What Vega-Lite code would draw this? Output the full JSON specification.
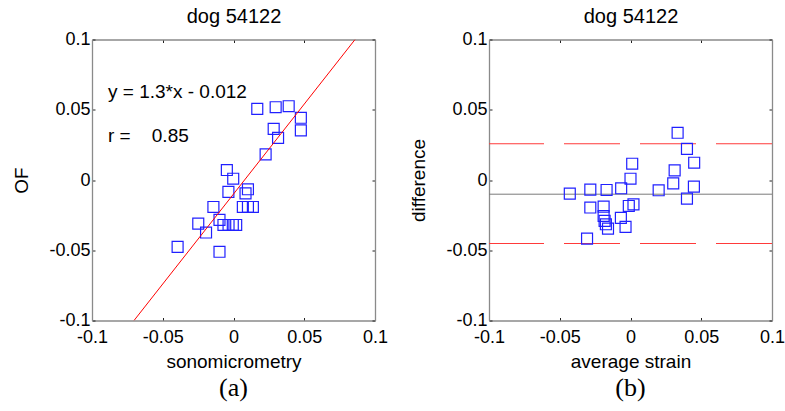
{
  "$schema": "https://vega.github.io/schema/vega-lite/v6.json",
  "padding": {"left": 12, "top": 5.5, "right": 5, "bottom": 5},
  "background": "white",
  "datasets": {
    "ptsA": [
      {"x": 0.0168, "y": 0.0506}, {"x": 0.0298, "y": 0.0518}, {"x": 0.039, "y": 0.0525},
      {"x": 0.0476, "y": 0.0443}, {"x": 0.0476, "y": 0.0353}, {"x": 0.0284, "y": 0.0364},
      {"x": 0.0315, "y": 0.030}, {"x": 0.0227, "y": 0.0182}, {"x": -0.0047, "y": 0.0071},
      {"x": -0.0002, "y": 0.0009}, {"x": -0.0036, "y": -0.0085}, {"x": 0.0102, "y": -0.0066},
      {"x": 0.0085, "y": -0.0095}, {"x": 0.0066, "y": -0.0192}, {"x": 0.0102, "y": -0.0192},
      {"x": 0.0137, "y": -0.0192}, {"x": -0.0142, "y": -0.0192}, {"x": -0.0249, "y": -0.031},
      {"x": -0.0194, "y": -0.0374}, {"x": -0.0099, "y": -0.0284}, {"x": -0.0071, "y": -0.032},
      {"x": -0.0035, "y": -0.032}, {"x": -0.0005, "y": -0.032}, {"x": 0.0019, "y": -0.032},
      {"x": -0.0395, "y": -0.0476}, {"x": -0.0099, "y": -0.0511}
    ],
    "ptsB": [
      {"x": 0.0333, "y": 0.0336}, {"x": 0.0399, "y": 0.0222}, {"x": 0.045, "y": 0.0123},
      {"x": 0.0012, "y": 0.0116}, {"x": 0.0312, "y": 0.0069}, {"x": 0.0, "y": 0.0009},
      {"x": 0.0302, "y": -0.0024}, {"x": 0.0448, "y": -0.0047}, {"x": 0.0199, "y": -0.0073},
      {"x": 0.0399, "y": -0.0133}, {"x": -0.0066, "y": -0.0059}, {"x": -0.0169, "y": -0.0071},
      {"x": -0.0284, "y": -0.0069}, {"x": -0.0429, "y": -0.0097}, {"x": -0.0284, "y": -0.0196},
      {"x": -0.019, "y": -0.0189}, {"x": -0.0012, "y": -0.0185}, {"x": 0.0021, "y": -0.0173},
      {"x": -0.019, "y": -0.0256}, {"x": -0.0068, "y": -0.027}, {"x": -0.0183, "y": -0.0291},
      {"x": -0.0174, "y": -0.0315}, {"x": -0.0159, "y": -0.0346}, {"x": -0.0035, "y": -0.0334},
      {"x": -0.0307, "y": -0.0417}
    ],
    "fitA": [{"x": -0.0703, "y": -0.1}, {"x": 0.0859, "y": 0.1}],
    "textA": [
      {"x": -0.0887, "y": 0.0628, "label": "y = 1.3*x - 0.012"},
      {"x": -0.0887, "y": 0.0313, "label": "r =\u00a0\u00a0\u00a0 0.85"}
    ],
    "meanB": [{"x": -0.1, "y": -0.0101}, {"x": 0.1, "y": -0.0101}],
    "limB": [{"y": 0.0258}, {"y": -0.0452}]
  },
  "hconcat": [
    {
      "width": 283,
      "height": 281,
      "title": {"text": "(a)", "orient": "bottom", "font": "Liberation Serif", "fontSize": 26, "fontWeight": "normal", "offset": 3},
      "layer": [
        {
          "data": {"name": "ptsA"},
          "mark": {"type": "point", "shape": "square", "filled": false, "size": 120, "color": "#2020ff", "strokeWidth": 1.2, "opacity": 1},
          "encoding": {
            "x": {"field": "x", "type": "quantitative", "scale": {"domain": [-0.1, 0.1], "nice": false, "zero": false},
                  "axis": {"orient": "bottom", "title": "sonomicrometry", "values": [-0.1, -0.05, 0, 0.05, 0.1], "labelExpr": "'' + datum.value"}},
            "y": {"field": "y", "type": "quantitative", "scale": {"domain": [-0.1, 0.1], "nice": false, "zero": false},
                  "axis": {"orient": "left", "title": "OF", "values": [-0.1, -0.05, 0, 0.05, 0.1], "labelExpr": "'' + datum.value"}}
          }
        },
        {
          "data": {"name": "fitA"},
          "mark": {"type": "line", "color": "#ff0000", "strokeWidth": 1, "clip": true},
          "encoding": {
            "x": {"field": "x", "type": "quantitative", "scale": {"domain": [-0.1, 0.1], "nice": false, "zero": false},
                  "axis": {"orient": "top", "title": "dog 54122", "labels": false, "values": [-0.1, -0.05, 0, 0.05, 0.1]}},
            "y": {"field": "y", "type": "quantitative", "scale": {"domain": [-0.1, 0.1], "nice": false, "zero": false},
                  "axis": {"orient": "right", "title": null, "labels": false, "values": [-0.1, -0.05, 0, 0.05, 0.1]}}
          }
        },
        {
          "data": {"name": "textA"},
          "mark": {"type": "text", "align": "left", "baseline": "middle", "fontSize": 19, "font": "Liberation Sans", "color": "#000"},
          "encoding": {
            "x": {"field": "x", "type": "quantitative", "axis": null},
            "y": {"field": "y", "type": "quantitative", "axis": null},
            "text": {"field": "label"}
          }
        }
      ],
      "resolve": {"axis": {"x": "independent", "y": "independent"}}
    },
    {
      "width": 283,
      "height": 281,
      "title": {"text": "(b)", "orient": "bottom", "font": "Liberation Serif", "fontSize": 26, "fontWeight": "normal", "offset": 3},
      "layer": [
        {
          "data": {"name": "limB"},
          "mark": {"type": "rule", "color": "#ff3a3a", "strokeWidth": 1, "strokeDash": [56, 20]},
          "encoding": {
            "y": {"field": "y", "type": "quantitative", "axis": null}
          }
        },
        {
          "data": {"name": "meanB"},
          "mark": {"type": "line", "color": "#7a7a7a", "strokeWidth": 1},
          "encoding": {
            "x": {"field": "x", "type": "quantitative", "scale": {"domain": [-0.1, 0.1], "nice": false, "zero": false},
                  "axis": {"orient": "top", "title": "dog 54122", "labels": false, "values": [-0.1, -0.05, 0, 0.05, 0.1]}},
            "y": {"field": "y", "type": "quantitative", "scale": {"domain": [-0.1, 0.1], "nice": false, "zero": false},
                  "axis": {"orient": "right", "title": null, "labels": false, "values": [-0.1, -0.05, 0, 0.05, 0.1]}}
          }
        },
        {
          "data": {"name": "ptsB"},
          "mark": {"type": "point", "shape": "square", "filled": false, "size": 120, "color": "#2020ff", "strokeWidth": 1.2, "opacity": 1},
          "encoding": {
            "x": {"field": "x", "type": "quantitative", "scale": {"domain": [-0.1, 0.1], "nice": false, "zero": false},
                  "axis": {"orient": "bottom", "title": "average strain", "values": [-0.1, -0.05, 0, 0.05, 0.1], "labelExpr": "'' + datum.value"}},
            "y": {"field": "y", "type": "quantitative", "scale": {"domain": [-0.1, 0.1], "nice": false, "zero": false},
                  "axis": {"orient": "left", "title": "difference", "values": [-0.1, -0.05, 0, 0.05, 0.1], "labelExpr": "'' + datum.value"}}
          }
        }
      ],
      "resolve": {"axis": {"x": "independent", "y": "independent"}}
    }
  ],
  "spacing": 114,
  "bounds": "flush",
  "config": {
    "view": {"stroke": null},
    "font": "Liberation Sans",
    "axis": {
      "grid": false,
      "domainColor": "#8a8a8a",
      "domainWidth": 1.3,
      "tickColor": "#222",
      "tickSize": -3,
      "tickWidth": 1,
      "labelFont": "Liberation Sans",
      "labelFontSize": 18,
      "labelColor": "#000",
      "titleFont": "Liberation Sans",
      "titleFontSize": 19,
      "titleFontWeight": "normal",
      "titleColor": "#000"
    },
    "axisBottom": {"labelPadding": 11, "titlePadding": 6, "labelFlush": false, "labelOverlap": false},
    "axisLeft": {"labelPadding": 5, "titlePadding": 17, "labelOverlap": false},
    "axisTop": {"titlePadding": 13, "titleFontSize": 20},
    "title": {"color": "#000"}
  }
}
